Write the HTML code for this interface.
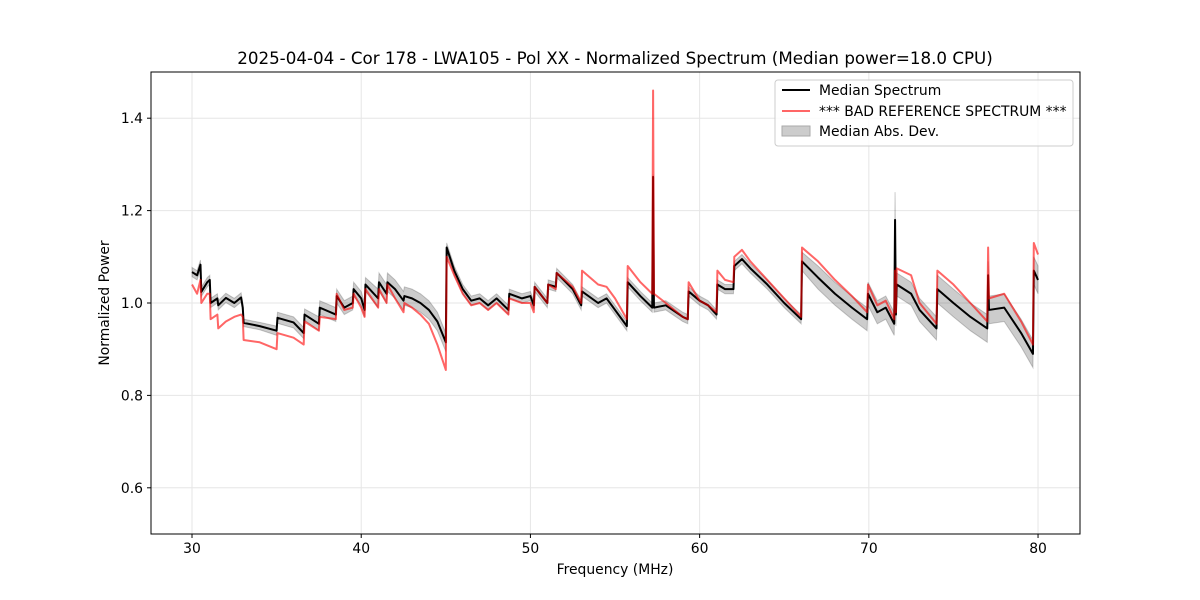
<!DOCTYPE html>
<html><head><meta charset="utf-8"><style>
body{margin:0;background:#fff;}
svg{display:block;font-family:"DejaVu Sans","Liberation Sans",sans-serif;}
</style></head><body>
<svg id="chart" width="1200" height="600" viewBox="0 0 1200 600">
<rect width="1200" height="600" fill="#fff"/>
<text x="615" y="64" text-anchor="middle" font-size="16.7">2025-04-04 - Cor 178 - LWA105 - Pol XX - Normalized Spectrum (Median power=18.0 CPU)</text>
<g id="grid"></g>
<g id="plot"></g>
<rect x="151" y="72" width="929" height="462" fill="none" stroke="#000" stroke-width="1"/>
<g id="ticks"></g>
<text x="615" y="574" text-anchor="middle" font-size="13.9">Frequency (MHz)</text>
<text x="109" y="303" text-anchor="middle" font-size="13.9" transform="rotate(-90 109 303)">Normalized Power</text>
<g>
<rect x="775" y="80" width="298" height="66" rx="3" fill="#fff" fill-opacity="0.8" stroke="#ccc"/>
<g><line x1="782" y1="90" x2="810" y2="90" stroke="#000" stroke-width="2"/><text x="819" y="95" font-size="13.9">Median Spectrum</text></g>
<g><line x1="782" y1="111" x2="810" y2="111" stroke="#ff6666" stroke-width="2"/><text x="819" y="116" font-size="13.9">*** BAD REFERENCE SPECTRUM ***</text></g>
<g><rect x="782" y="126" width="28" height="10" fill="#cccccc" stroke="#aaa"/><text x="819" y="136" font-size="13.9">Median Abs. Dev.</text></g>
</g>
</svg>
<script>
const freqs=[30.0,30.3,30.5,30.55,30.9,31.05,31.1,31.5,31.55,32.0,32.5,32.9,33.0,33.05,34.0,35.0,35.05,36.0,36.6,36.65,37.5,37.55,38.5,38.55,39.0,39.5,39.55,40.0,40.2,40.25,41.0,41.05,41.5,41.55,42.0,42.5,42.55,43.0,43.5,44.0,44.5,45.0,45.05,45.5,46.0,46.5,47.0,47.5,48.0,48.7,48.75,49.5,50.0,50.2,50.25,51.0,51.05,51.5,51.55,52.5,53.0,53.05,54.0,54.5,55.0,55.7,55.75,56.5,57.2,57.25,57.3,58.0,59.0,59.3,59.35,60.0,60.5,61.0,61.05,61.5,62.0,62.05,62.5,63.0,64.0,65.0,66.0,66.05,67.0,68.0,69.0,69.9,69.95,70.5,71.0,71.5,71.55,71.6,71.65,72.5,73.0,74.0,74.05,75.0,76.0,77.0,77.05,77.1,78.0,79.0,79.7,79.75,80.0];
const medianVals=[1.067,1.06,1.083,1.024,1.045,1.05,1.0,1.01,0.995,1.011,1.0,1.012,0.99,0.957,0.95,0.94,0.968,0.958,0.935,0.975,0.955,0.99,0.975,1.015,0.99,1.0,1.03,1.01,0.985,1.04,1.01,1.045,1.02,1.045,1.03,1.005,1.015,1.01,1.0,0.985,0.96,0.915,1.12,1.07,1.03,1.005,1.01,0.995,1.01,0.985,1.02,1.01,1.015,0.995,1.035,1.0,1.04,1.035,1.065,1.03,0.995,1.025,1.0,1.01,0.985,0.95,1.045,1.015,0.99,1.273,0.99,0.995,0.97,0.965,1.025,1.005,0.995,0.975,1.04,1.03,1.03,1.08,1.095,1.075,1.04,1.0,0.965,1.09,1.055,1.02,0.99,0.965,1.02,0.98,0.99,0.955,1.18,0.975,1.04,1.02,0.985,0.945,1.03,1.0,0.97,0.945,1.06,0.985,0.99,0.935,0.89,1.07,1.05];
const refVals=[1.04,1.02,1.05,1.0,1.02,1.02,0.965,0.975,0.945,0.96,0.97,0.975,0.97,0.92,0.915,0.90,0.935,0.925,0.91,0.96,0.94,0.97,0.965,1.02,0.985,0.99,1.02,0.99,0.97,1.03,0.99,1.03,1.0,1.04,1.01,0.98,1.0,0.99,0.975,0.955,0.91,0.855,1.10,1.06,1.02,0.995,1.0,0.985,1.0,0.975,1.01,1.0,1.0,0.98,1.035,1.0,1.04,1.03,1.065,1.035,1.0,1.07,1.04,1.035,1.01,0.965,1.08,1.045,1.02,1.46,1.02,1.0,0.97,0.965,1.045,1.005,0.995,0.98,1.07,1.05,1.045,1.10,1.115,1.09,1.05,1.01,0.97,1.12,1.09,1.05,1.015,0.98,1.04,0.995,1.005,0.965,1.07,0.98,1.075,1.06,1.0,0.955,1.07,1.04,1.0,0.96,1.12,1.01,1.02,0.96,0.91,1.13,1.105];
const madVals=[0.01,0.01,0.01,0.01,0.01,0.01,0.01,0.01,0.01,0.01,0.01,0.01,0.01,0.008,0.008,0.01,0.012,0.012,0.012,0.012,0.015,0.015,0.015,0.015,0.015,0.015,0.015,0.015,0.015,0.015,0.02,0.02,0.02,0.02,0.02,0.02,0.02,0.02,0.02,0.02,0.02,0.02,0.01,0.01,0.01,0.01,0.01,0.01,0.01,0.01,0.01,0.01,0.01,0.01,0.01,0.01,0.01,0.01,0.01,0.01,0.01,0.01,0.01,0.01,0.01,0.01,0.01,0.01,0.01,0.005,0.01,0.01,0.01,0.01,0.01,0.01,0.01,0.01,0.01,0.01,0.01,0.01,0.01,0.01,0.01,0.01,0.01,0.02,0.025,0.025,0.025,0.025,0.025,0.025,0.025,0.025,0.06,0.025,0.025,0.025,0.025,0.025,0.03,0.03,0.03,0.03,0.03,0.03,0.03,0.03,0.03,0.03,0.03];
const xTicks=[30,40,50,60,70,80];
const yTicks=[0.6,0.8,1.0,1.2,1.4];

const X0=151,X1=1080,Y0=72,Y1=534,XMIN=27.576,XMAX=82.48,YMIN=0.5,YMAX=1.5;
function xs(v){return X0+(v-XMIN)/(XMAX-XMIN)*(X1-X0);}
function ys(v){return Y1-(v-YMIN)/(YMAX-YMIN)*(Y1-Y0);}
const NS='http://www.w3.org/2000/svg';
function mk(tag,attrs,parent){const e=document.createElementNS(NS,tag);for(const k in attrs)e.setAttribute(k,attrs[k]);parent.appendChild(e);return e;}
const grid=document.getElementById('grid'),ticks=document.getElementById('ticks'),plot=document.getElementById('plot');
xTicks.forEach(t=>{const x=xs(t);
 const g=mk('line',{x1:x,y1:Y0,x2:x,y2:Y1,stroke:'#e6e6e6','stroke-width':1},grid);
 
 
 mk('line',{x1:x,y1:Y1,x2:x,y2:Y1+4,stroke:'#000'},ticks);
 const l=mk('text',{x:x,y:Y1+19,'text-anchor':'middle','font-size':13.9},ticks);l.textContent=t;
 
 
});
yTicks.forEach(t=>{const y=ys(t);
 const g=mk('line',{x1:X0,y1:y,x2:X1,y2:y,stroke:'#e6e6e6','stroke-width':1},grid);
 
 
 mk('line',{x1:X0-4,y1:y,x2:X0,y2:y,stroke:'#000'},ticks);
 const l=mk('text',{x:X0-8,y:y+5,'text-anchor':'end','font-size':13.9},ticks);l.textContent=t.toFixed(1);
 
 
});
let up=freqs.map((f,i)=>xs(f)+','+ys(medianVals[i]+madVals[i]));
let dn=freqs.map((f,i)=>xs(f)+','+ys(medianVals[i]-madVals[i])).reverse();
const band=mk('polygon',{points:up.concat(dn).join(' '),fill:'#000','fill-opacity':0.2,stroke:'#000','stroke-opacity':0.2,'stroke-width':1},plot);


const med=mk('polyline',{points:freqs.map((f,i)=>xs(f)+','+ys(medianVals[i])).join(' '),fill:'none',stroke:'#000','stroke-width':2,'stroke-linejoin':'round'},plot);


const ref=mk('polyline',{points:freqs.map((f,i)=>xs(f)+','+ys(refVals[i])).join(' '),fill:'none',stroke:'#ff0000','stroke-opacity':0.6,'stroke-width':2,'stroke-linejoin':'round'},plot);


</script>
</body></html>
